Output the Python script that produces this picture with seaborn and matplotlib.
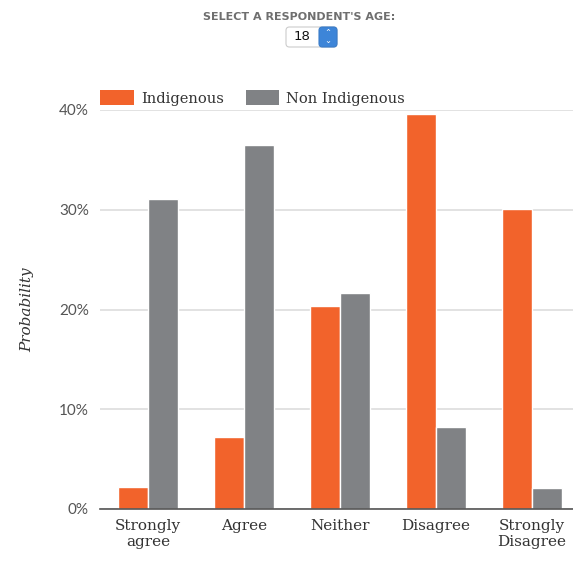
import matplotlib
matplotlib.use("Agg")
import matplotlib.pyplot as plt
from matplotlib.patches import FancyBboxPatch, Patch
import pandas as pd
import seaborn as sns

# data
RESPONSES = ["Strongly\nagree", "Agree", "Neither", "Disagree", "Strongly\nDisagree"]
GROUPS = ["Indigenous", "Non Indigenous"]
INDIGENOUS = [2.2, 7.2, 20.4, 39.6, 30.1]
NON_INDIGENOUS = [31.1, 36.5, 21.7, 8.2, 2.1]
Y_TICKS = [0, 10, 20, 30, 40]
AGE = "18"

COLORS = {"Indigenous": "#F2632B", "Non Indigenous": "#808285"}

df = pd.DataFrame({
    "response": RESPONSES * 2,
    "group": [GROUPS[0]] * len(RESPONSES) + [GROUPS[1]] * len(RESPONSES),
    "value": INDIGENOUS + NON_INDIGENOUS,
})

sns.set_style("white")
plt.rcParams["font.family"] = ["DejaVu Serif"]

W, H = 573, 579
fig = plt.figure(figsize=(W / 100, H / 100), dpi=100)
ax = fig.add_axes([100 / W, 70 / H, 480 / W, 399 / H])

sns.barplot(data=df, x="response", y="value", hue="group", order=RESPONSES,
            hue_order=GROUPS, palette=COLORS, saturation=1, width=0.62,
            edgecolor="white", linewidth=1, ax=ax, legend=False, zorder=3)

ax.set_xlim(-0.5, len(RESPONSES) - 0.5)
ax.set_ylim(0, 40)
ax.set_yticks(Y_TICKS)
ax.set_yticklabels([f"{t}%" for t in Y_TICKS], color="#555555", fontsize=11,
                   family="Lato")
ax.tick_params(axis="both", length=0, pad=8)
ax.tick_params(axis="x", labelsize=11, labelcolor="#333333", pad=7)
ax.yaxis.grid(True, color="#dddddd", linewidth=1.2, zorder=0)
for s in ["top", "right", "left"]:
    ax.spines[s].set_visible(False)
ax.spines["bottom"].set_color("#555555")
ax.spines["bottom"].set_linewidth(1.2)
ax.spines["bottom"].set_zorder(5)
ax.set_xlabel("")
ax.set_ylabel("Probability", fontstyle="italic", fontsize=11, color="#333333",
              labelpad=18)

# legend above the plot
handles = [Patch(facecolor=COLORS[g], edgecolor="none") for g in GROUPS]
fig.legend(handles, GROUPS, loc="center left", bbox_to_anchor=(100 / W, 1 - 98 / H),
           ncol=2, frameon=False, fontsize=10.5, handlelength=2.3, handleheight=1.2,
           columnspacing=1.5, handletextpad=0.5, labelcolor="#333333",
           borderpad=0, borderaxespad=0)

# age selector header
fig.text(299 / W, 1 - 17 / H, "SELECT A RESPONDENT'S AGE:", ha="center", va="center",
         fontsize=8, fontweight="bold", color="#6f6f6f", family="Liberation Sans Narrow")
box = FancyBboxPatch((286 / W, 1 - 47 / H), 51 / W, 20 / H,
                     boxstyle="round,pad=0,rounding_size=0.006",
                     transform=fig.transFigure, facecolor="white",
                     edgecolor="#cccccc", linewidth=0.8)
fig.add_artist(box)
spin = FancyBboxPatch((319 / W, 1 - 47 / H), 18 / W, 20 / H,
                      boxstyle="round,pad=0,rounding_size=0.006",
                      transform=fig.transFigure, facecolor="#3d85d8",
                      edgecolor="#3a7cc8", linewidth=0.8)
fig.add_artist(spin)
fig.text(302 / W, 1 - 37 / H, AGE, ha="center", va="center", fontsize=9.5,
         color="#111111", family="DejaVu Sans")
fig.text(328 / W, 1 - 37 / H, "\u2303\n\u2304", ha="center", va="center",
         fontsize=6, color="white", family="DejaVu Sans", linespacing=0.7)

fig.savefig("out.png", dpi=100)
